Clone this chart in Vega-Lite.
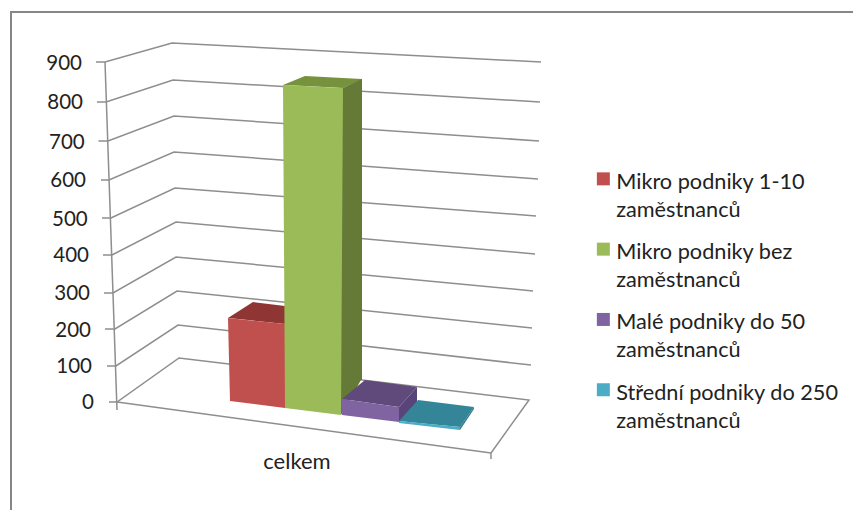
{"$schema":"https://vega.github.io/schema/vega-lite/v6.json","width":853,"height":510,"padding":0,"autosize":"none","background":"#ffffff","config":{"view":{"stroke":null}},
"datasets":{
"lines":[
{"k":"frame","n":1,"x":853,"y":12},{"k":"frame","n":2,"x":11,"y":12},{"k":"frame","n":3,"x":11,"y":510},
{"k":"900","n":1,"x":96,"y":62},{"k":"900","n":2,"x":105,"y":62},{"k":"900","n":3,"x":172,"y":43},{"k":"900","n":4,"x":541,"y":62},
{"k":"800","n":1,"x":97,"y":102},{"k":"800","n":2,"x":106,"y":102},{"k":"800","n":3,"x":173,"y":80},{"k":"800","n":4,"x":540,"y":102},
{"k":"700","n":1,"x":98.5,"y":141},{"k":"700","n":2,"x":108,"y":141},{"k":"700","n":3,"x":174,"y":116},{"k":"700","n":4,"x":539,"y":141},
{"k":"600","n":1,"x":101,"y":180},{"k":"600","n":2,"x":109,"y":180},{"k":"600","n":3,"x":174,"y":152},{"k":"600","n":4,"x":538,"y":179},
{"k":"500","n":1,"x":102,"y":218},{"k":"500","n":2,"x":111,"y":218},{"k":"500","n":3,"x":175,"y":188},{"k":"500","n":4,"x":536,"y":216},
{"k":"400","n":1,"x":103,"y":255},{"k":"400","n":2,"x":112,"y":255},{"k":"400","n":3,"x":176,"y":222},{"k":"400","n":4,"x":535,"y":254},
{"k":"300","n":1,"x":104,"y":293},{"k":"300","n":2,"x":113,"y":293},{"k":"300","n":3,"x":176,"y":257},{"k":"300","n":4,"x":533,"y":291},
{"k":"200","n":1,"x":105,"y":329},{"k":"200","n":2,"x":115,"y":329},{"k":"200","n":3,"x":177,"y":291},{"k":"200","n":4,"x":532,"y":328},
{"k":"100","n":1,"x":107,"y":366},{"k":"100","n":2,"x":116,"y":366},{"k":"100","n":3,"x":178,"y":325},{"k":"100","n":4,"x":531,"y":365},
{"k":"0","n":1,"x":109,"y":402},{"k":"0","n":2,"x":117,"y":402},{"k":"0","n":3,"x":179,"y":358},{"k":"0","n":4,"x":529,"y":400},{"k":"0","n":5,"x":491,"y":453},{"k":"0","n":6,"x":491,"y":459},
{"k":"front","n":1,"x":117,"y":402},{"k":"front","n":2,"x":491,"y":453},
{"k":"axis","n":1,"x":105,"y":62},{"k":"axis","n":2,"x":117,"y":410}
],
"dark":[
{"f":"a","shade":"r","x":228,"y":318,"y2":318},{"f":"a","shade":"r","x":253,"y":302,"y2":320.6},{"f":"a","shade":"r","x":285,"y":306,"y2":324},
{"f":"b","shade":"gt","x":283,"y":85,"y2":85},{"f":"b","shade":"gt","x":305,"y":76,"y2":86.1},{"f":"b","shade":"gt","x":343,"y":78,"y2":88},{"f":"b","shade":"gt","x":362,"y":79,"y2":79},
{"f":"c","shade":"gs","x":341,"y":88,"y2":415},{"f":"c","shade":"gs","x":343,"y":88,"y2":411.5},{"f":"c","shade":"gs","x":361,"y":79,"y2":380},{"f":"c","shade":"gs","x":362,"y":79,"y2":380},
{"f":"d","shade":"pt","x":342,"y":399,"y2":399},{"f":"d","shade":"pt","x":365,"y":380,"y2":402.2},{"f":"d","shade":"pt","x":399,"y":384.6,"y2":407},{"f":"d","shade":"pt","x":417,"y":387,"y2":387},
{"f":"e","shade":"ps","x":399,"y":407,"y2":422},{"f":"e","shade":"ps","x":417,"y":387,"y2":403},
{"f":"f","shade":"tt","x":399,"y":421,"y2":421},{"f":"f","shade":"tt","x":418,"y":400,"y2":422.9},{"f":"f","shade":"tt","x":460,"y":405.25,"y2":427},{"f":"f","shade":"tt","x":474,"y":407,"y2":407},
{"f":"g","shade":"ts","x":460,"y":427,"y2":430},{"f":"g","shade":"ts","x":474,"y":407,"y2":409}
],
"front":[
{"series":"Mikro podniky 1-10 zaměstnanců","x":228,"y":318,"y2":318},{"series":"Mikro podniky 1-10 zaměstnanců","x":230,"y":318.2,"y2":401},{"series":"Mikro podniky 1-10 zaměstnanců","x":285,"y":324,"y2":408},
{"series":"Mikro podniky bez zaměstnanců","x":283,"y":85,"y2":85},{"series":"Mikro podniky bez zaměstnanců","x":285,"y":85.1,"y2":408},{"series":"Mikro podniky bez zaměstnanců","x":341,"y":87.9,"y2":415},{"series":"Mikro podniky bez zaměstnanců","x":343,"y":88,"y2":88},
{"series":"Malé podniky do 50 zaměstnanců","x":342,"y":399,"y2":415},{"series":"Malé podniky do 50 zaměstnanců","x":399,"y":407,"y2":422},
{"series":"Střední podniky do 250 zaměstnanců","x":399,"y":421,"y2":423},{"series":"Střední podniky do 250 zaměstnanců","x":460,"y":427,"y2":430}
],
"ticks":[
{"t":"900","x":82,"y":64},{"t":"800","x":83,"y":103},{"t":"700","x":84.7,"y":143},{"t":"600","x":86,"y":181},{"t":"500","x":87.7,"y":220},{"t":"400","x":89,"y":256},{"t":"300","x":90,"y":294},{"t":"200","x":91,"y":331},{"t":"100","x":92,"y":367},{"t":"0","x":94,"y":403}
]},
"layer":[
{"data":{"name":"lines"},"mark":{"type":"line","strokeJoin":"miter","clip":false},
"encoding":{"x":{"field":"x","type":"quantitative","scale":{"domain":[0,853]},"axis":null},"y":{"field":"y","type":"quantitative","scale":{"domain":[510,0]},"axis":null},"detail":{"field":"k"},"order":{"field":"n","type":"quantitative"},
"color":{"condition":{"test":"datum.k==='frame'","value":"#868686"},"value":"#8e8e8e"},
"strokeWidth":{"condition":{"test":"datum.k==='frame'","value":2},"value":1.5}}},
{"data":{"name":"dark"},"mark":{"type":"area"},
"encoding":{"x":{"field":"x","type":"quantitative","scale":{"domain":[0,853]},"axis":null},"y":{"field":"y","type":"quantitative","scale":{"domain":[510,0]},"axis":null},"y2":{"field":"y2"},"detail":{"field":"f"},
"fill":{"field":"shade","type":"nominal","legend":null,"scale":{"domain":["r","gt","gs","pt","ps","tt","ts"],"range":["#8f3533","#76923c","#657a37","#604a7b","#59447a","#358599","#2f7a8e"]}}}},
{"data":{"name":"front"},"mark":{"type":"area"},
"encoding":{"x":{"field":"x","type":"quantitative","scale":{"domain":[0,853]},"axis":null},"y":{"field":"y","type":"quantitative","scale":{"domain":[510,0]},"axis":null},"y2":{"field":"y2"},
"color":{"field":"series","type":"nominal","sort":null,"scale":{"domain":["Mikro podniky 1-10 zaměstnanců","Mikro podniky bez zaměstnanců","Malé podniky do 50 zaměstnanců","Střední podniky do 250 zaměstnanců"],"range":["#c0504d","#9bbb59","#8064a2","#4bacc6"]},
"legend":{"orient":"none","legendX":592.5,"legendY":168,"title":null,"symbolType":"square","symbolSize":169,"symbolStrokeWidth":0,"labelFont":"Lato","labelFontSize":21.7,"labelColor":"#222222","labelLimit":300,"labelExpr":"[replace(datum.label,' zaměstnanců',''),'zaměstnanců']","labelOffset":2,"rowPadding":16.3,"labelBaseline":"middle","encode":{"labels":{"update":{"lineHeight":{"value":28},"dy":{"value":3}}}}}}}},
{"data":{"name":"ticks"},"mark":{"type":"text","align":"right","baseline":"middle","font":"Lato","fontSize":20.5,"color":"#222222"},
"encoding":{"x":{"field":"x","type":"quantitative","scale":{"domain":[0,853]},"axis":null},"y":{"field":"y","type":"quantitative","scale":{"domain":[510,0]},"axis":null},"text":{"field":"t"}}},
{"data":{"values":[{"t":"celkem","x":297,"y":462}]},"mark":{"type":"text","align":"center","baseline":"middle","font":"Lato","fontSize":22,"color":"#222222"},
"encoding":{"x":{"field":"x","type":"quantitative","scale":{"domain":[0,853]},"axis":null},"y":{"field":"y","type":"quantitative","scale":{"domain":[510,0]},"axis":null},"text":{"field":"t"}}}
],
"resolve":{"scale":{"color":"independent"}}}
